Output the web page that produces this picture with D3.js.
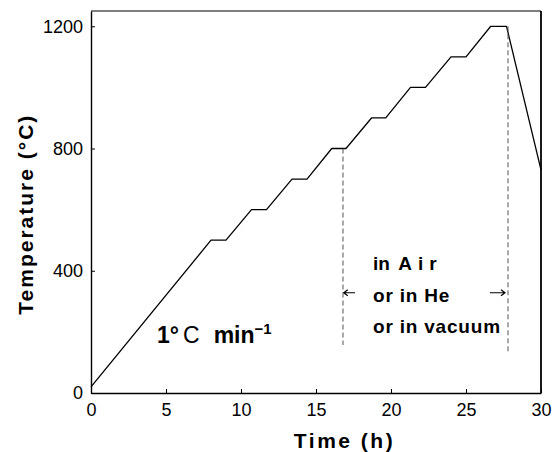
<!DOCTYPE html>
<html>
<head>
<meta charset="utf-8">
<script src="https://cdn.jsdelivr.net/npm/d3@7"></script>
<style>
  html, body { margin: 0; padding: 0; background: #fff; }
  svg { display: block; }
  .tick text { font-family: "Liberation Sans", Arial, sans-serif; font-size: 18px; fill: #000; }
</style>
</head>
<body>
<svg id="chart" width="552" height="452"></svg>
<script>
// ---- data ----
const timeH = [0, 8.0, 9.0, 10.7, 11.7, 13.4, 14.4, 16.05, 17.0, 18.7, 19.65, 21.3, 22.3, 24.0, 25.0, 26.65, 27.7, 30];
const tempC = [20, 500, 500, 600, 600, 700, 700, 800, 800, 900, 900, 1000, 1000, 1100, 1100, 1200, 1200, 730];
const xTicks = [0, 5, 10, 15, 20, 25, 30];
const yTicks = [0, 400, 800, 1200];
const dashTimes = [16.8, 27.8];
const dashTop = [800, 1200];
const dashBottom = [157, 131];
const atmosLines = ["in Air", "or in He", "or in vacuum"];
const atmosTemps = [402, 298, 196];
// arrows: [tail time, head time] at a given temperature level
const arrowTails = [17.6, 26.6];
const arrowHeads = [16.85, 27.6];
const arrowTemp = 328;
const xLabel = "Time (h)";
const yLabel = "Temperature (°C)";

// ---- layout ----
const W = 552, H = 452;
const m = { left: 91, right: 11, top: 11, bottom: 59 };
const svg = d3.select("#chart");

const x = d3.scaleLinear().domain([0, 30]).range([m.left, W - m.right]);
const y = d3.scaleLinear().domain([0, 1250]).range([H - m.bottom, m.top]);

// frame (top, right)
svg.append("line").attr("x1", x(0)).attr("x2", x(30)).attr("y1", y(1250)).attr("y2", y(1250))
  .attr("stroke", "#000").attr("stroke-width", 1.2);
svg.append("line").attr("x1", x(30)).attr("x2", x(30)).attr("y1", y(1250)).attr("y2", y(0))
  .attr("stroke", "#000").attr("stroke-width", 1.8);

// axes
const gx = svg.append("g").attr("transform", `translate(0,${y(0)})`)
  .call(d3.axisBottom(x).tickValues(xTicks).tickFormat(d3.format("d")).tickSizeInner(-4).tickSizeOuter(0).tickPadding(10));
const gy = svg.append("g").attr("transform", `translate(${x(0)},0)`)
  .call(d3.axisLeft(y).tickValues(yTicks).tickFormat(d3.format("d")).tickSizeInner(-4).tickSizeOuter(0).tickPadding(8));
[gx, gy].forEach(g => {
  g.select(".domain").attr("stroke", "#000").attr("stroke-width", 1.4);
  g.selectAll(".tick line").attr("stroke", "#000").attr("stroke-width", 1);
});

// profile line
const pts = timeH.map((t, i) => [t, tempC[i]]);
svg.append("path").datum(pts)
  .attr("fill", "none").attr("stroke", "#000").attr("stroke-width", 1.3)
  .attr("stroke-linejoin", "round")
  .attr("d", d3.line().x(d => x(d[0])).y(d => y(d[1])));

// dashed verticals
svg.selectAll("line.dash").data(dashTimes).join("line").attr("class", "dash")
  .attr("x1", d => x(d)).attr("x2", d => x(d))
  .attr("y1", (d, i) => y(dashTop[i])).attr("y2", (d, i) => y(dashBottom[i]))
  .attr("stroke", "#555").attr("stroke-width", 1).attr("stroke-dasharray", "5,3");

// arrows
svg.selectAll("path.arrow").data(arrowTails).join("path").attr("class", "arrow")
  .attr("fill", "none").attr("stroke", "#000").attr("stroke-width", 1.2)
  .attr("d", (d, i) => {
    const x0 = x(d), x1 = x(arrowHeads[i]), yy = y(arrowTemp);
    const dir = x1 > x0 ? 1 : -1;
    return `M${x0},${yy}L${x1},${yy}M${x1 - dir * 4},${yy - 3}L${x1},${yy}L${x1 - dir * 4},${yy + 3}`;
  });

// annotation: atmosphere
const bold = "'Liberation Sans', Arial, sans-serif";
const at = svg.append("g").attr("font-family", bold).attr("font-weight", "bold").attr("font-size", 19).attr("fill", "#000");
at.append("text").attr("x", x(18.8)).attr("y", y(atmosTemps[0]))
  .call(t => { t.append("tspan").text("in "); t.append("tspan").attr("letter-spacing", 6).attr("dx", 3).text("Air"); });
at.append("text").attr("x", x(18.8)).attr("y", y(atmosTemps[1])).attr("letter-spacing", 0.8).text(atmosLines[1]);
at.append("text").attr("x", x(18.8)).attr("y", y(atmosTemps[2])).attr("letter-spacing", 0.8).text(atmosLines[2]);

// annotation: rate
const rt = svg.append("text").attr("x", x(4.4)).attr("y", y(163))
  .attr("font-family", bold).attr("font-size", 23).attr("fill", "#000");
rt.append("tspan").attr("font-weight", "bold").text("1°");
rt.append("tspan").attr("dx", 4).attr("font-weight", "normal").text("C");
rt.append("tspan").attr("dx", 14).attr("font-weight", "bold").text("min");
rt.append("tspan").attr("dy", -9).attr("font-size", 15).attr("font-weight", "bold").text("−1");

// axis titles
svg.append("text").attr("x", x(16.9)).attr("y", 448).attr("text-anchor", "middle")
  .attr("font-family", bold).attr("font-weight", "bold").attr("font-size", 21).attr("letter-spacing", 2.5)
  .text(xLabel);
svg.append("text").attr("transform", `translate(33,${y(585)}) rotate(-90)`).attr("text-anchor", "middle")
  .attr("font-family", bold).attr("font-weight", "bold").attr("font-size", 21).attr("letter-spacing", 2)
  .text(yLabel);
</script>
</body>
</html>
